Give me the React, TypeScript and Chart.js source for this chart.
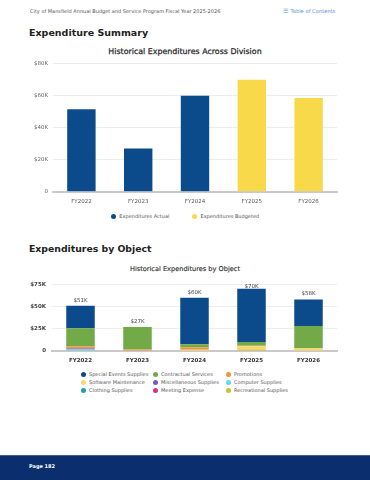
import React, { useEffect, useRef } from "react";
import { Chart, registerables } from "chart.js";

Chart.register(...registerables);

// ---------- data ----------
const years = ["FY2022", "FY2023", "FY2024", "FY2025", "FY2026"];

const actualValues = [51300, 26900, 59800, null, null];
const budgetedValues = [null, null, null, 69700, 58400];
const summaryMax = 80000;
const summaryStep = 20000;

const objectNames = [
  "Special Events Supplies",
  "Contractual Services",
  "Promotions",
  "Software Maintenance",
  "Miscellaneous Supplies",
  "Computer Supplies",
  "Clothing Supplies",
  "Meeting Expense",
  "Recreational Supplies",
];
const objectColors = [
  "#0b4a8b",
  "#72aa48",
  "#f2923e",
  "#f7d76c",
  "#7a58b8",
  "#5cdcec",
  "#1aa2ad",
  "#d6318c",
  "#c9c131",
];
const specialEvents = [25400, 0, 52500, 60000, 30000];
const contractual = [20400, 25300, 3500, 4000, 25000];
const promotions = [2500, 1000, 2500, 700, 0];
const software = [0, 700, 1000, 3500, 3000];
const miscellaneous = [1000, 0, 500, 0, 0];
const computer = [1200, 0, 0, 0, 0];
const clothing = [0, 0, 0, 0, 0];
const meeting = [500, 0, 0, 0, 0];
const recreational = [0, 0, 0, 1800, 0];
const objectSeries = [
  specialEvents,
  contractual,
  promotions,
  software,
  miscellaneous,
  computer,
  clothing,
  meeting,
  recreational,
];
const objectMax = 75000;
const objectStep = 25000;

const summaryLegend = [
  { label: "Expenditures Actual", color: "#0b4a8b" },
  { label: "Expenditures Budgeted", color: "#f8d94a" },
];

const FONT = "'DejaVu Sans', sans-serif";

const kLabel = (v: number) => (v === 0 ? "0" : `$${Math.round(v / 1000)}K`);

function SummaryChart() {
  const ref = useRef<HTMLCanvasElement | null>(null);
  useEffect(() => {
    if (!ref.current) return;
    const chart = new Chart(ref.current, {
      type: "bar",
      data: {
        labels: years,
        datasets: [
          { label: summaryLegend[0].label, data: actualValues, backgroundColor: summaryLegend[0].color },
          { label: summaryLegend[1].label, data: budgetedValues, backgroundColor: summaryLegend[1].color },
        ],
      },
      options: {
        animation: false,
        responsive: false,
        devicePixelRatio: 1,
        layout: { padding: { top: 7.7, right: 33, bottom: 1.3, left: 0 } },
        plugins: { legend: { display: false }, title: { display: false }, tooltip: { enabled: false } },
        datasets: { bar: { barPercentage: 0.5, categoryPercentage: 1 } },
        scales: {
          x: {
            stacked: true,
            grid: { display: false, drawTicks: false },
            border: { display: true, color: "#c9c9c9", width: 2 },
            ticks: { font: { family: FONT, size: 5.5 }, color: "#555", padding: 6.5 },
            afterFit: (s: any) => {
              s.height = 14;
            },
          },
          y: {
            stacked: true,
            min: 0,
            max: summaryMax,
            grid: { color: "#ededed", drawTicks: false },
            border: { display: false },
            ticks: {
              stepSize: summaryStep,
              font: { family: FONT, size: 5.5 },
              color: "#666",
              padding: 5,
              callback: (v: any) => kLabel(Number(v)),
            },
            afterFit: (s: any) => {
              s.width = 53;
            },
          },
        },
      },
    });
    return () => chart.destroy();
  }, []);
  return <canvas ref={ref} width={370} height={152} style={{ position: "absolute", left: 0, top: 55 }} />;
}

function ObjectChart() {
  const ref = useRef<HTMLCanvasElement | null>(null);
  useEffect(() => {
    if (!ref.current) return;
    const totalLabels = {
      id: "totalLabels",
      afterDatasetsDraw(chart: any) {
        const { ctx, chartArea } = chart;
        const x = chart.scales.x;
        const y = chart.scales.y;
        ctx.save();
        ctx.font = `5.5px ${FONT}`;
        ctx.fillStyle = "#444";
        ctx.textAlign = "center";
        ctx.textBaseline = "middle";
        years.forEach((_, i) => {
          const total = objectSeries.reduce((s, arr) => s + arr[i], 0);
          const px = x.getPixelForValue(i);
          const py = Math.max(y.getPixelForValue(total) - 5.5, chartArea.top + 2.3);
          ctx.fillText(kLabel(total), px, py);
        });
        ctx.restore();
      },
    };
    const datasets = objectNames
      .map((name, i) => ({ label: name, data: objectSeries[i], backgroundColor: objectColors[i] }))
      .reverse();
    const chart = new Chart(ref.current, {
      type: "bar",
      data: { labels: years, datasets },
      options: {
        animation: false,
        responsive: false,
        devicePixelRatio: 1,
        layout: { padding: { top: 6, right: 33, bottom: 1, left: 0 } },
        plugins: { legend: { display: false }, title: { display: false }, tooltip: { enabled: false } },
        datasets: { bar: { barPercentage: 0.5, categoryPercentage: 1 } },
        scales: {
          x: {
            stacked: true,
            grid: { display: false, drawTicks: false },
            border: { display: true, color: "#c9c9c9", width: 2 },
            ticks: { font: { family: FONT, size: 5.5, weight: "bold" }, color: "#333", padding: 6.5 },
            afterFit: (s: any) => {
              s.height = 14;
            },
          },
          y: {
            stacked: true,
            min: 0,
            max: objectMax,
            grid: { color: "#ededed", drawTicks: false },
            border: { display: false },
            ticks: {
              stepSize: objectStep,
              font: { family: FONT, size: 5.5, weight: "bold" },
              color: "#444",
              padding: 6,
              callback: (v: any) => kLabel(Number(v)),
            },
            afterFit: (s: any) => {
              s.width = 52;
            },
          },
        },
      },
      plugins: [totalLabels],
    });
    return () => chart.destroy();
  }, []);
  return <canvas ref={ref} width={370} height={91} style={{ position: "absolute", left: 0, top: 275 }} />;
}

function Txt(props: { x: number; y: number; size: number; children: any; style?: any; center?: boolean }) {
  const { x, y, size, children, style, center } = props;
  return (
    <div
      style={{
        position: "absolute",
        left: center ? 0 : x,
        width: center ? 370 : undefined,
        textAlign: center ? "center" : "left",
        top: y - 6,
        height: 12,
        lineHeight: "12px",
        fontSize: size,
        whiteSpace: "nowrap",
        ...style,
      }}
    >
      {children}
    </div>
  );
}

function Dot({ color }: { color: string }) {
  return (
    <span
      style={{
        display: "inline-block",
        width: 5,
        height: 5,
        borderRadius: "50%",
        background: color,
        marginRight: 3.5,
        verticalAlign: "middle",
        position: "relative",
        top: -0.5,
      }}
    />
  );
}

export default function App() {
  return (
    <div style={{ position: "relative", width: 370, height: 480, overflow: "hidden", background: "#fff", fontFamily: FONT }}>
      <style>{`body{margin:0;}`}</style>
      <Txt x={30} y={11} size={5} style={{ color: "#555" }}>
        City of Mansfield Annual Budget and Service Program Fiscal Year 2025-2026
      </Txt>
      <Txt x={283} y={11} size={5.2} style={{ color: "#5b8fd0" }}>
        <span style={{ fontSize: 6, marginRight: 2 }}>☰</span>Table of Contents
      </Txt>
      <Txt x={29} y={32.7} size={9.5} style={{ color: "#222", fontWeight: "bold" }}>
        Expenditure Summary
      </Txt>
      <Txt x={0} y={52} size={7.9} center style={{ color: "#2a2a2a", WebkitTextStroke: "0.25px #2a2a2a" }}>
        Historical Expenditures Across Division
      </Txt>
      <SummaryChart />
      <div
        style={{
          position: "absolute",
          left: 0,
          width: 370,
          top: 210,
          height: 12,
          lineHeight: "12px",
          display: "flex",
          justifyContent: "center",
          gap: 22.5,
          fontSize: 5,
          color: "#555",
          paddingLeft: 0,
        }}
      >
        {summaryLegend.map((it) => (
          <span key={it.label} style={{ whiteSpace: "nowrap" }}>
            <Dot color={it.color} />
            {it.label}
          </span>
        ))}
      </div>
      <Txt x={29} y={249} size={9.3} style={{ color: "#222", fontWeight: "bold" }}>
        Expenditures by Object
      </Txt>
      <Txt x={0} y={269} size={6.6} center style={{ color: "#333", WebkitTextStroke: "0.15px #333" }}>
        Historical Expenditures by Object
      </Txt>
      <ObjectChart />
      <div
        style={{
          position: "absolute",
          left: 80.5,
          top: 371.4,
          display: "grid",
          gridTemplateColumns: "72px 73px auto",
          gridAutoRows: "7.85px",
          fontSize: 5,
          lineHeight: "7.85px",
          color: "#555",
        }}
      >
        {objectNames.map((n, i) => (
          <span key={n} style={{ whiteSpace: "nowrap" }}>
            <Dot color={objectColors[i]} />
            {n}
          </span>
        ))}
      </div>
      <div
        style={{
          position: "absolute",
          left: 0,
          top: 455,
          width: 370,
          height: 25,
          background: "#0b2e6f",
          borderTop: "1px solid #3d5f9a",
        }}
      />
      <Txt x={29} y={465.7} size={5} style={{ color: "#fff", fontWeight: "bold" }}>
        Page 182
      </Txt>
    </div>
  );
}
